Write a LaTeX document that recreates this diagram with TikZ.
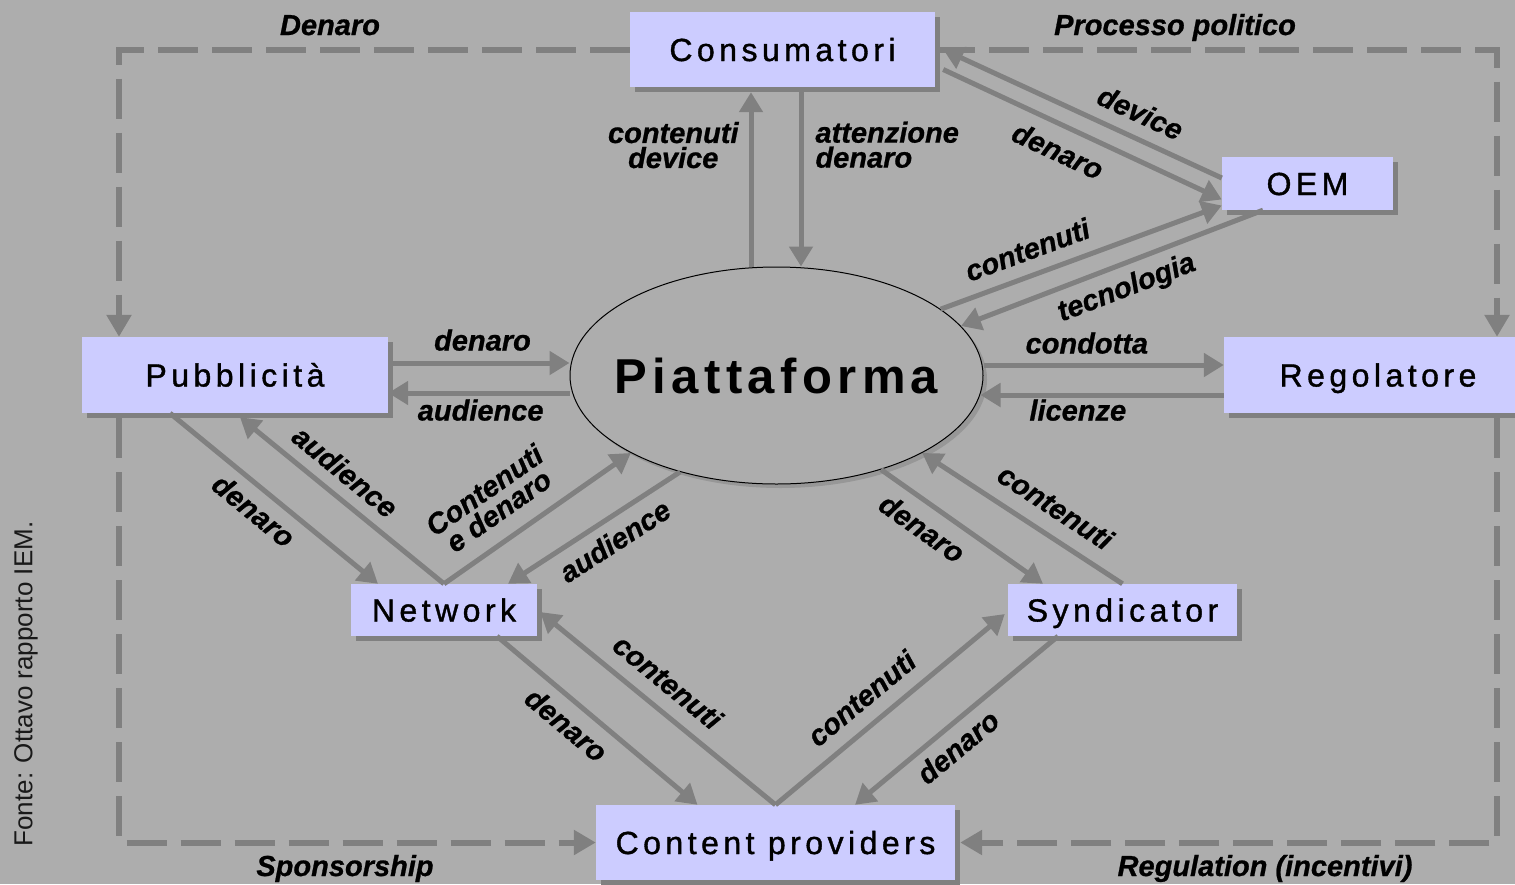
\documentclass[tikz,border=0pt]{standalone}
\usepackage{fontspec}
\setmainfont{Liberation Sans}
\newfontfamily\boxfam[LetterSpace=14,FakeBold=1.2]{Liberation Sans}
\newfontfamily\hubfam[LetterSpace=11]{Liberation Sans}
\newfontfamily\labfam[FakeBold=0.8]{Liberation Sans}
\usetikzlibrary{arrows.meta,shapes.geometric,shadows}
\definecolor{bg}{HTML}{ADADAD}
\definecolor{boxfill}{HTML}{CCCCFF}
\definecolor{flow}{HTML}{808080}
\definecolor{hubshade}{HTML}{979797}

\begin{document}
\begin{tikzpicture}[x=1pt,y=-1pt,
  every node/.style={inner sep=0pt},
  entity/.style={rectangle, fill=boxfill,
    font=\boxfam\fontsize{32}{36}\selectfont, text height=23pt, text depth=0pt,
    drop shadow={shadow xshift=5pt, shadow yshift=-5pt, fill=flow, opacity=1}},
  hub/.style={ellipse, draw=black, line width=1pt, fill=bg,
    minimum width=413pt, minimum height=217pt,
    font=\hubfam\bfseries\fontsize{49}{55}\selectfont, text height=35pt, text depth=0pt,
    drop shadow={shadow xshift=4pt, shadow yshift=-4pt, fill=hubshade, opacity=1}},
  flowarrow/.style={draw=flow, line width=5pt, -{Triangle[length=20pt,width=23pt]}},
  frameline/.style={draw=flow, line width=6pt, dash pattern=on 40pt off 14pt,
    -{Triangle[length=22pt,width=24pt]}},
  lab/.style={font=\labfam\fontsize{29}{25}\selectfont\bfseries\itshape,
    text height=21pt, text depth=6pt, inner sep=2pt},
  twolines/.style={text height=46pt, text depth=6pt},
  src/.style={font=\fontsize{26}{30}\selectfont, text=black!90}
]
\useasboundingbox (0,0) rectangle (1515,884);
\fill[bg] (0,0) rectangle (1515,884);

% actors
\node[entity, minimum width=305pt, minimum height=75pt] (cons) at (782.5,49.5) {Consumatori};
\node[entity, minimum width=171pt, minimum height=53pt] (oem) at (1307.5,183.5) {OEM};
\node[entity, minimum width=306pt, minimum height=76pt] (pub) at (235,375) {Pubblicità};
\node[entity, minimum width=308pt, minimum height=76pt] (reg) at (1378,375) {Regolatore};
\node[entity, minimum width=186pt, minimum height=52pt] (net) at (444,610) {Network};
\node[entity, minimum width=229pt, minimum height=52pt] (synd) at (1122.5,610) {Syndicator};
\node[entity, minimum width=359pt, minimum height=75pt] (cp) at (775.5,842.5) {Content providers};
\node[hub] (piatt) at (776.5,375.5) {\makebox[0pt]{Piattaforma}};

% outer dashed loop
\draw[frameline] (cons.west) -| ([xshift=-116pt]pub.north);
\draw[frameline] (cons.east) -| ([xshift=119pt]reg.north);
\draw[frameline] ([xshift=-116pt,yshift=-5pt]pub.south) |- (cp.west);
\draw[frameline] ([xshift=119pt,yshift=-5pt]reg.south) |- ([xshift=5pt]cp.east);
\node[lab, anchor=base] (tDenaro) at (330,35) {Denaro};
\node[lab, anchor=base] (tProc) at (1175,35) {Processo politico};
\node[lab, anchor=base] (tSpons) at (345,876) {Sponsorship};
\node[lab, anchor=base] (tRegul) at (1265,876) {Regulation (incentivi)};

% platform <-> consumers
\draw[flowarrow] ([xshift=-25.5pt]piatt.north) -- ([xshift=-25.5pt,yshift=-5pt]piatt.north |- cons.south)
  node[lab, twolines, pos=0.68, left=8pt, align=center] {contenuti\\device};
\draw[flowarrow] ([xshift=18.5pt]cons.south) -- ([xshift=18.5pt]cons.south |- piatt.north)
  node[lab, twolines, pos=0.337, right=10pt, align=left] {attenzione\\denaro};

% consumers <-> OEM
\draw[flowarrow] ([yshift=5.5pt]oem.west) -- ([xshift=8pt]cons.east)
  node[lab, pos=0.33, sloped, above=4.5pt] {device};
\draw[flowarrow] ([xshift=8pt,yshift=-20pt]cons.east) -- ([yshift=-16pt]oem.west)
  node[lab, pos=0.45, sloped, below=10pt] {denaro};

% platform <-> OEM
\draw[flowarrow] (piatt.22) -- ([yshift=-22pt]oem.west)
  node[lab, pos=0.34, sloped, above=5pt] {contenuti};
\draw[flowarrow] ([xshift=-44.5pt]oem.south) -- (piatt.15)
  node[lab, pos=0.48, sloped, below=6.5pt] {tecnologia};

% advertising <-> platform
\draw[flowarrow] ([yshift=12pt]pub.east) -- ([yshift=12pt]pub.east -| piatt.west)
  node[lab, pos=0.52, above=2pt] {denaro};
\draw[flowarrow] ([yshift=-18pt]pub.east -| piatt.west) -- ([yshift=-18pt]pub.east)
  node[lab, pos=0.49, below=2pt] {audience};

% platform <-> regulator
\draw[flowarrow] ([yshift=10pt]reg.west -| piatt.east) -- ([yshift=10pt]reg.west)
  node[lab, pos=0.43, above=1pt] {condotta};
\draw[flowarrow] ([yshift=-20pt]reg.west) -- ([yshift=-20pt,xshift=-3pt]reg.west -| piatt.east)
  node[lab, pos=0.6, below=0pt] {licenze};

% advertising <-> network
\draw[flowarrow] ([xshift=-65pt]pub.south) -- ([xshift=-66pt]net.north)
  node[lab, pos=0.47, sloped, below=7pt] {denaro};
\draw[flowarrow] (net.north) -- ([xshift=5pt,yshift=-4pt]pub.south)
  node[lab, pos=0.56, sloped, above=3.5pt] {audience};

% network <-> platform
\draw[flowarrow] (net.north) -- (piatt.208)
  node[lab, twolines, pos=0.38, sloped, above=8pt, align=center] {Contenuti\\e denaro};
\draw[flowarrow] (piatt.225) -- ([xshift=64pt]net.north)
  node[lab, pos=0.45, sloped, below=7pt] {audience};

% platform <-> syndicator
\draw[flowarrow] (piatt.-42) -- ([xshift=-79.5pt]synd.north)
  node[lab, pos=0.34, sloped, below=9pt] {denaro};
\draw[flowarrow] (synd.north) -- (piatt.-28)
  node[lab, pos=0.41, sloped, above=7pt] {contenuti};

% network / syndicator <-> content providers
\draw[flowarrow] ([xshift=53pt]net.south) -- ([xshift=-78pt]cp.north)
  node[lab, pos=0.42, sloped, below=8pt] {denaro};
\draw[flowarrow] (cp.north) -- ([xshift=3pt,yshift=-2pt]net.east)
  node[lab, pos=0.53, sloped, above=6pt] {contenuti};
\draw[flowarrow] (cp.north) -- ([xshift=-3pt,yshift=-4pt]synd.west)
  node[lab, pos=0.45, sloped, above=6pt] {contenuti};
\draw[flowarrow] ([xshift=-64.5pt]synd.south) -- ([xshift=79.5pt]cp.north)
  node[lab, pos=0.56, sloped, below=6pt] {denaro};

% source note
\node[src, rotate=90] (fonte) at (26,684) {Fonte: Ottavo rapporto IEM.};
\end{tikzpicture}
\end{document}
